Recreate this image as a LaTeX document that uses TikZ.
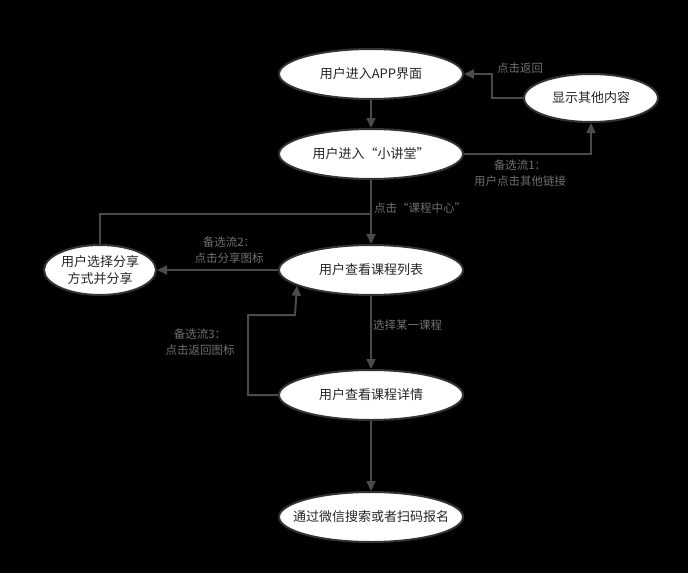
\documentclass[tikz,border=0pt]{standalone}
\usepackage{fontspec}
\setmainfont{Noto Sans CJK SC}
\usetikzlibrary{arrows.meta,shapes.geometric}
\definecolor{linegray}{HTML}{4A4A4A}
\definecolor{labelgray}{HTML}{707070}
\definecolor{rimgray}{HTML}{333333}
\begin{document}
\begin{tikzpicture}[x=1pt,y=-1pt,
    usecase/.style={ellipse,draw=rimgray,line width=2pt,fill=white,text=black!85,
      minimum width=184pt,minimum height=50pt,inner sep=0pt,
      font=\fontsize{13}{17}\selectfont,align=center},
    note/.style={text=labelgray,font=\fontsize{11.5}{16}\selectfont,align=center,inner sep=0pt},
    flow/.style={draw=linegray,line width=2pt,-{Triangle[length=10pt,width=9pt]}}]
      \fill[black] (0,0) rectangle (688,573);
      \useasboundingbox (0,0) rectangle (688,573);
      \draw
        (371,74) node[usecase] (a){用户进入APP界面}
        (371,154) node[usecase] (b){用户进入“小讲堂”}
        (591,98) node[usecase,minimum width=134pt,minimum height=48pt] (c){显示其他内容}
        (371,270) node[usecase] (d){用户查看课程列表}
        (100,270) node[usecase,minimum width=112pt] (e){用户选择分享\\方式并分享}
        (371,395) node[usecase] (f){用户查看课程详情}
        (371,517) node[usecase,inner xsep=-13.5pt] (g){通过微信搜索或者扫码报名};
      \coordinate (j) at (371,214);
      \begin{scope}[flow]
        \draw (a) to (b);
        \draw (c.west) -- ++(-31,0) |- (a.east);
        \draw (b.east) -| (c.south);
        \draw (b) to (d);
        \draw[-] (e.north) |- (j);
        \draw (d.west) -- (e.east);
        \draw (d) to (f);
        \draw (f.west) -- ++(-30,0) |- (295,315) -- (d.192);
        \draw (f) to (g);
      \end{scope}
      \node[note] (n0) at (520,68) {点击返回};
      \node[note] (n1) at (520,173) {备选流1：\\用户点击其他链接};
      \node[note,anchor=west] (n2) at (374,208) {点击“课程中心”};
      \node[note] (n3) at (229,250) {备选流2：\\点击分享图标};
      \node[note,anchor=west] (n4) at (373,325) {选择某一课程};
      \node[note] (n5) at (200,342) {备选流3：\\点击返回图标};
    \end{tikzpicture}
\end{document}
